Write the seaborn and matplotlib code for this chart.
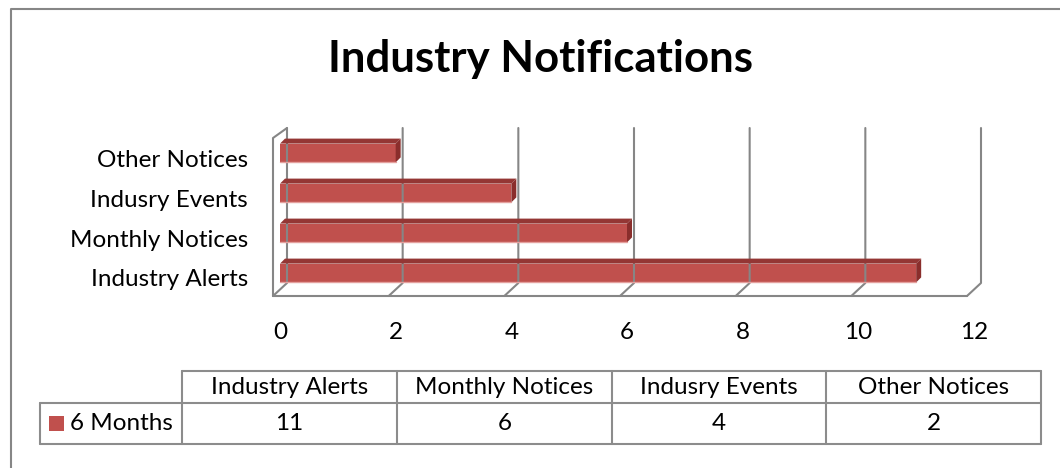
import numpy as np
import pandas as pd
import seaborn as sns
import matplotlib
matplotlib.use("Agg")
import matplotlib.pyplot as plt
from matplotlib.patches import Polygon, Rectangle
from matplotlib.lines import Line2D
from matplotlib.transforms import IdentityTransform, ScaledTranslation

# Data
categories = ["Industry Alerts", "Monthly Notices", "Indusry Events", "Other Notices"]
values = [11, 6, 4, 2]
series_name = "6 Months"
x_ticks = [0, 2, 4, 6, 8, 10, 12]

W, H = 1060, 468
DPI = 100
BAR = "#C0504D"
BAR_TOP = "#943634"
BAR_END = "#8A2E2C"
GRID = "#868686"
FONT = ["Lato", "DejaVu Sans"]
FS = 17.5

sns.set_theme(style="white")
plt.rcParams["font.family"] = FONT

fig = plt.figure(figsize=(W / DPI, H / DPI), dpi=DPI)
fig.patch.set_facecolor("white")


def fig_box(x0, y0, x1, y1):
    # image pixel box (top-left origin) -> figure fraction [l, b, w, h]
    return [x0 / W, 1 - y1 / H, (x1 - x0) / W, (y1 - y0) / H]


def dy(y):
    # image y (top origin) -> display y
    return H - y


ax = fig.add_axes(fig_box(280, 135, 974, 290))
df = pd.DataFrame({"category": categories, "value": values})
sns.barplot(data=df, x="value", y="category", order=categories[::-1],
            color=BAR, width=0.47, saturation=1, ax=ax, linewidth=0)
ax.set_xlim(0, 12)
ax.set_ylim(3.425, -0.45)
ax.set_xlabel("")
ax.set_ylabel("")
for s in ax.spines.values():
    s.set_visible(False)
ax.patch.set_alpha(0)
ax.set_xticks(x_ticks)
ax.set_xticklabels([str(t) for t in x_ticks], fontsize=FS, color="black")
ax.tick_params(axis="x", length=0, pad=23)
ax.tick_params(axis="y", length=0, pad=23, labelsize=FS, labelcolor="black")
# category labels sit slightly below the bar centres
shift = ScaledTranslation(0, -5 / DPI, fig.dpi_scale_trans)
for lab in ax.get_yticklabels():
    lab.set_transform(lab.get_transform() + shift)

fig.canvas.draw()
ident = IdentityTransform()

# 3D frame: back wall gridlines + floor diagonals
back_dx, front_dx = 7, -7
top_y, back_floor, front_floor = 128, 283, 296
for t in x_ticks:
    px = ax.transData.transform((t, 0))[0]
    xs = [px + back_dx, px + back_dx, px + front_dx]
    ys = [dy(top_y), dy(back_floor), dy(front_floor)]
    fig.add_artist(Line2D(xs, ys, transform=ident, color=GRID, lw=1.5, zorder=1))
p0 = ax.transData.transform((0, 0))[0]
p12 = ax.transData.transform((12, 0))[0]
# left side wall front edge
fig.add_artist(Line2D([p0 + front_dx, p0 + front_dx, p0 + back_dx],
                      [dy(front_floor), dy(top_y + 10), dy(top_y)],
                      transform=ident, color=GRID, lw=1.5, zorder=1))
# floor front edge
fig.add_artist(Line2D([p0 + front_dx, p12 + front_dx], [dy(front_floor)] * 2,
                      transform=ident, color=GRID, lw=1.5, zorder=1))

# 3D faces on bars
ddx, ddy = 5, 5
for patch in ax.patches:
    bb = patch.get_window_extent()
    x0, x1, y0, y1 = bb.x0, bb.x1, bb.y0, bb.y1
    top = Polygon([(x0, y1), (x1, y1), (x1 + ddx, y1 + ddy), (x0 + ddx, y1 + ddy)],
                  closed=True, transform=ident, color=BAR_TOP, lw=0, zorder=3)
    end = Polygon([(x1, y0), (x1, y1), (x1 + ddx, y1 + ddy), (x1 + ddx, y0 + ddy)],
                  closed=True, transform=ident, color=BAR_END, lw=0, zorder=3)
    fig.add_artist(top)
    fig.add_artist(end)
    fig.add_artist(Line2D([x0, x1], [y0 + 0.5, y0 + 0.5], transform=ident,
                          color="#E4A09E", lw=1, zorder=3))

# Title
fig.text(541 / W, 1 - 59 / H, "Industry Notifications", ha="center", va="center",
         fontsize=31.5, fontweight="bold", color="black")

# Outer chart border (top and left)
fig.add_artist(Line2D([11, 11, W], [0, dy(9), dy(9)], transform=ident,
                      color=GRID, lw=1.5))

# Data table
col_edges = [182, 397, 612, 826, 1041]
row_top, row_mid, row_bot = 371, 403, 444
label_left = 40
lc = "#8C8C8C"
lw = 1.5
fig.add_artist(Line2D([col_edges[0], col_edges[-1]], [dy(row_top)] * 2, transform=ident, color=lc, lw=lw))
fig.add_artist(Line2D([label_left, col_edges[-1]], [dy(row_mid)] * 2, transform=ident, color=lc, lw=lw))
fig.add_artist(Line2D([label_left, col_edges[-1]], [dy(row_bot)] * 2, transform=ident, color=lc, lw=lw))
fig.add_artist(Line2D([label_left, label_left], [dy(row_mid), dy(row_bot)], transform=ident, color=lc, lw=lw))
for ce in col_edges:
    fig.add_artist(Line2D([ce, ce], [dy(row_top), dy(row_bot)], transform=ident, color=lc, lw=lw))
for i, (cat, val) in enumerate(zip(categories, values)):
    cx = (col_edges[i] + col_edges[i + 1]) / 2
    fig.text(cx / W, 1 - (row_top + row_mid) / 2 / H, cat, ha="center", va="center",
             fontsize=FS, color="black")
    fig.text(cx / W, 1 - (row_mid + row_bot) / 2 / H, str(val), ha="center", va="center",
             fontsize=FS, color="black")
fig.add_artist(Rectangle((49, dy(431)), 15, 15, transform=ident, color=BAR, lw=0))
fig.text(70 / W, 1 - (row_mid + row_bot) / 2 / H, series_name, ha="left", va="center",
         fontsize=FS, color="black")

fig.savefig("out.png", dpi=DPI, facecolor="white")
